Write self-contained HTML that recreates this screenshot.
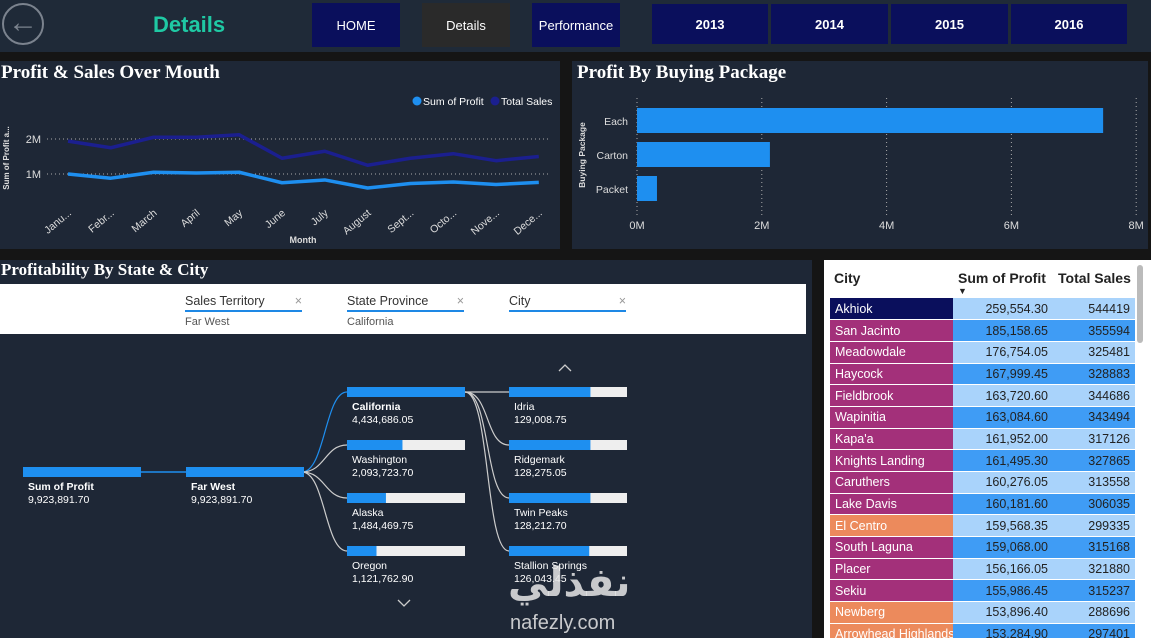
<!DOCTYPE html>
<html><head><meta charset="utf-8">
<style>
*{margin:0;padding:0;box-sizing:border-box}
body{width:1151px;height:638px;background:#151515;position:relative;overflow:hidden;font-family:"Liberation Sans",sans-serif;color:#fff}
.abs{position:absolute}
.panel{position:absolute;background:#1e2736}
.btn{position:absolute;background:#0a0f5c;color:#fff;font-size:13px;display:flex;align-items:center;justify-content:center}
.yr{font-weight:bold}
.title{position:absolute;font-family:"Liberation Serif",serif;font-weight:bold;font-size:19px;color:#fff}
table{border-collapse:collapse;font-size:12.5px;table-layout:fixed;width:305px}
td{height:21.7px;padding:0 5px;border-bottom:1px solid rgba(255,255,255,0.25);white-space:nowrap;overflow:hidden}
td.c{width:123px;color:#fff}
td.p{width:100px;text-align:right;color:#222}
td.s{width:82px;text-align:right;color:#222}
</style></head><body>
<div class="abs" style="left:0;top:0;width:1151px;height:52px;background:#1f2a38"></div>
<div class="abs" style="left:2px;top:3px;width:42px;height:42px;border:2px solid #7b838e;border-radius:50%;color:#7b838e;font-size:30px;line-height:36px;text-align:center">&#8592;</div>
<div class="abs" style="left:153px;top:12px;font-size:22px;font-weight:bold;color:#1fc9a4">Details</div>
<div class="btn" style="left:312px;top:3px;width:88px;height:44px">HOME</div>
<div class="btn" style="left:422px;top:3px;width:88px;height:44px;background:#2a2a2a">Details</div>
<div class="btn" style="left:532px;top:3px;width:88px;height:44px">Performance</div>
<div class="btn yr" style="left:652px;top:4px;width:116px;height:40px">2013</div>
<div class="btn yr" style="left:771px;top:4px;width:117px;height:40px">2014</div>
<div class="btn yr" style="left:891px;top:4px;width:117px;height:40px">2015</div>
<div class="btn yr" style="left:1011px;top:4px;width:116px;height:40px">2016</div>

<div class="panel" style="left:0;top:61px;width:560px;height:188px"></div>
<div class="title" style="left:1px;top:62px">Profit &amp; Sales Over Mouth</div>
<svg class="abs" id="lc" style="left:0;top:0" width="560" height="250"></svg>

<div class="panel" style="left:572px;top:61px;width:576px;height:188px"></div>
<div class="title" style="left:577px;top:62px">Profit By Buying Package</div>
<svg class="abs" id="bc" style="left:0;top:0" width="1151" height="250"></svg>

<div class="panel" style="left:0;top:260px;width:812px;height:378px"></div>
<div class="title" style="left:1px;top:260px;font-size:17px">Profitability By State &amp; City</div>
<div class="abs" style="left:0;top:284px;width:806px;height:50px;background:#fff;color:#333;font-size:12.5px">
 <div class="abs" style="left:185px;top:10px;width:117px;border-bottom:2px solid #1e88e5;padding-bottom:2px">Sales Territory<span style="float:right;color:#999">×</span></div>
 <div class="abs" style="left:185px;top:32px;font-size:11px;color:#555">Far West</div>
 <div class="abs" style="left:347px;top:10px;width:117px;border-bottom:2px solid #1e88e5;padding-bottom:2px">State Province<span style="float:right;color:#999">×</span></div>
 <div class="abs" style="left:347px;top:32px;font-size:11px;color:#555">California</div>
 <div class="abs" style="left:509px;top:10px;width:117px;border-bottom:2px solid #1e88e5;padding-bottom:2px">City<span style="float:right;color:#999">×</span></div>
</div>
<svg class="abs" id="dt" style="left:0;top:0" width="812" height="638"></svg>

<div class="abs" style="left:824px;top:260px;width:327px;height:378px;background:#fff"></div>
<div class="abs" style="left:834px;top:270px;width:300px;font-size:14px;font-weight:bold;color:#222">
 <span class="abs" style="left:0">City</span><span class="abs" style="left:124px">Sum of Profit</span><span class="abs" style="left:224px">Total Sales</span>
 <span class="abs" style="left:124px;top:16px;font-size:9px">▼</span>
</div>
<div class="abs" style="left:1137px;top:265px;width:6px;height:78px;background:#bbb;border-radius:3px"></div>
<div class="abs" style="left:830px;top:298px;width:305px;height:340px;overflow:hidden">
<table id="tb"></table></div>
<div class="abs" style="left:508px;top:560px;font-size:40px;font-weight:bold;color:rgba(230,230,230,0.85);font-family:'Liberation Sans','DejaVu Sans',sans-serif">نفذلي</div>
<div class="abs" style="left:510px;top:612px;font-size:20px;color:rgba(230,230,230,0.85)">nafezly.com</div>

<script>
const NS='http://www.w3.org/2000/svg';
function mk(p,t,a,txt){const e=document.createElementNS(NS,t);for(const k in a)e.setAttribute(k,a[k]);if(txt!=null)e.textContent=txt;p.appendChild(e);return e;}
// line chart data
const months=['Janu...','Febr...','March','April','May','June','July','August','Sept...','Octo...','Nove...','Dece...'];
const profit=[1.0,0.88,1.05,1.03,1.05,0.75,0.83,0.6,0.73,0.77,0.7,0.76];
const sales=[1.94,1.75,2.05,2.05,2.12,1.45,1.65,1.25,1.45,1.58,1.38,1.5];
const yTicks=[1,2];
const lc=document.getElementById('lc');
const lx=i=>68+i*42.8, ly=v=>209-v*35;
yTicks.forEach(t=>{const g=mk(lc,'line',{x1:47,x2:548,y1:ly(t),y2:ly(t),stroke:'#aaa','stroke-dasharray':'1 3'});
 const l=mk(lc,'text',{x:41,y:ly(t)+4,'text-anchor':'end',fill:'#ddd','font-size':11},t+'M');});
[[sales,'#1b1f8f','sales-line'],[profit,'#1e8ff0','profit-line']].forEach(([d,c,n])=>{const p=mk(lc,'polyline',{points:d.map((v,i)=>lx(i)+','+ly(v)).join(' '),fill:'none',stroke:c,'stroke-width':3.5,'stroke-linejoin':'round'});});
months.forEach((m,i)=>{const t=mk(lc,'text',{x:lx(i)+4,y:214,'text-anchor':'end',fill:'#ddd','font-size':10.5,transform:`rotate(-40 ${lx(i)+4} 214)`},m);});
let e=mk(lc,'text',{x:303,y:243,'text-anchor':'middle',fill:'#ddd','font-size':9,'font-weight':'bold'},'Month');
e=mk(lc,'text',{x:9,y:158,'text-anchor':'middle',fill:'#ddd','font-size':8,'font-weight':'bold',transform:'rotate(-90 9 158)'},'Sum of Profit a...');
e=mk(lc,'circle',{cx:417,cy:101,r:4.5,fill:'#1e8ff0'});
e=mk(lc,'text',{x:423,y:105,fill:'#fff','font-size':10.5},'Sum of Profit');
e=mk(lc,'circle',{cx:495,cy:101,r:4.5,fill:'#1b1f8f'});
e=mk(lc,'text',{x:501,y:105,fill:'#fff','font-size':10.5},'Total Sales');

// bar chart data
const packages=['Each','Carton','Packet'];
const pkgProfit=[7.47,2.13,0.32];
const xTicks=[0,2,4,6,8];
const bc=document.getElementById('bc');
const bx=v=>637+v*62.4, by=i=>108+i*34;
xTicks.forEach(t=>{e=mk(bc,'line',{x1:bx(t),x2:bx(t),y1:98,y2:215,stroke:'#aaa','stroke-dasharray':'1 3'});
 e=mk(bc,'text',{x:bx(t),y:229,'text-anchor':'middle',fill:'#ddd','font-size':11},t+'M');});
packages.forEach((p,i)=>{e=mk(bc,'rect',{x:bx(0),y:by(i),width:bx(pkgProfit[i])-bx(0),height:25,fill:'#1e8ff0'});
 e=mk(bc,'text',{x:628,y:by(i)+17,'text-anchor':'end',fill:'#ddd','font-size':10.5},p);});
e=mk(bc,'text',{x:585,y:155,'text-anchor':'middle',fill:'#ddd','font-size':8.5,'font-weight':'bold',transform:'rotate(-90 585 155)'},'Buying Package');

// decomposition tree data
const states=['California','Washington','Alaska','Oregon'];
const stateVals=['4,434,686.05','2,093,723.70','1,484,469.75','1,121,762.90'];
const stateFrac=[1,0.47,0.33,0.25];
const cities=['Idria','Ridgemark','Twin Peaks','Stallion Springs'];
const cityVals=['129,008.75','128,275.05','128,212.70','126,043.45'];
const cityFrac=[0.69,0.69,0.69,0.68];
const dt=document.getElementById('dt');
function node(x,y,frac,name,val,bold,nm){
 e=mk(dt,'rect',{x:x,y:y,width:118,height:10,fill:'#eee'});
 e=mk(dt,'rect',{x:x,y:y,width:118*frac,height:10,fill:'#1e8ff0'});
 e=mk(dt,'text',{x:x+5,y:y+23,fill:'#fff','font-size':10.5,'font-weight':bold?'bold':'normal'},name);
 e=mk(dt,'text',{x:x+5,y:y+36,fill:'#fff','font-size':10.5},val);
}
const sy=i=>387+i*53;
mk(dt,'line',{x1:141,y1:472,x2:186,y2:472,stroke:'#1e8ff0','stroke-width':1.5});
states.forEach((s,i)=>{e=mk(dt,'path',{d:`M302 472 C325 472 325 ${sy(i)+5} 347 ${sy(i)+5}`,fill:'none',stroke:i==0?'#1e8ff0':'#ccc','stroke-width':1.2});});
cities.forEach((s,i)=>{e=mk(dt,'path',{d:`M465 392 C490 392 485 ${sy(i)+5} 509 ${sy(i)+5}`,fill:'none',stroke:'#ccc','stroke-width':1.2});});
node(23,467,1,'Sum of Profit','9,923,891.70',true,'root-node');
node(186,467,1,'Far West','9,923,891.70',true,'far-west-node');
states.forEach((s,i)=>node(347,sy(i),stateFrac[i],s,stateVals[i],i==0,'state-'+s.toLowerCase()));
cities.forEach((s,i)=>node(509,sy(i),cityFrac[i],s,cityVals[i],false,'city-'+s.toLowerCase().replace(' ','-')));
e=mk(dt,'path',{d:'M559 371 L565 365 L571 371',fill:'none',stroke:'#ccc','stroke-width':1.3});
e=mk(dt,'path',{d:'M398 600 L404 606 L410 600',fill:'none',stroke:'#ccc','stroke-width':1.3});

// table
const rows=[['Akhiok','259,554.30','544419','#0a0f5c'],['San Jacinto','185,158.65','355594','#a3307a'],['Meadowdale','176,754.05','325481','#a3307a'],['Haycock','167,999.45','328883','#a3307a'],['Fieldbrook','163,720.60','344686','#a3307a'],['Wapinitia','163,084.60','343494','#a3307a'],["Kapa'a",'161,952.00','317126','#a3307a'],['Knights Landing','161,495.30','327865','#a3307a'],['Caruthers','160,276.05','313558','#a3307a'],['Lake Davis','160,181.60','306035','#a3307a'],['El Centro','159,568.35','299335','#ec8a5c'],['South Laguna','159,068.00','315168','#a3307a'],['Placer','156,166.05','321880','#a3307a'],['Sekiu','155,986.45','315237','#a3307a'],['Newberg','153,896.40','288696','#ec8a5c'],['Arrowhead Highlands','153,284.90','297401','#ec8a5c']];
const tb=document.getElementById('tb');
rows.forEach((r,i)=>{const tr=document.createElement('tr');
 
 
 const bg=i%2?'#3f9cf5':'#a9d3fb';
 tr.innerHTML=`<td class="c" style="background:${r[3]}">${r[0]}</td><td class="p" style="background:${bg}">${r[1]}</td><td class="s" style="background:${bg}">${r[2]}</td>`;
 tb.appendChild(tr);});
</script>
</body></html>
